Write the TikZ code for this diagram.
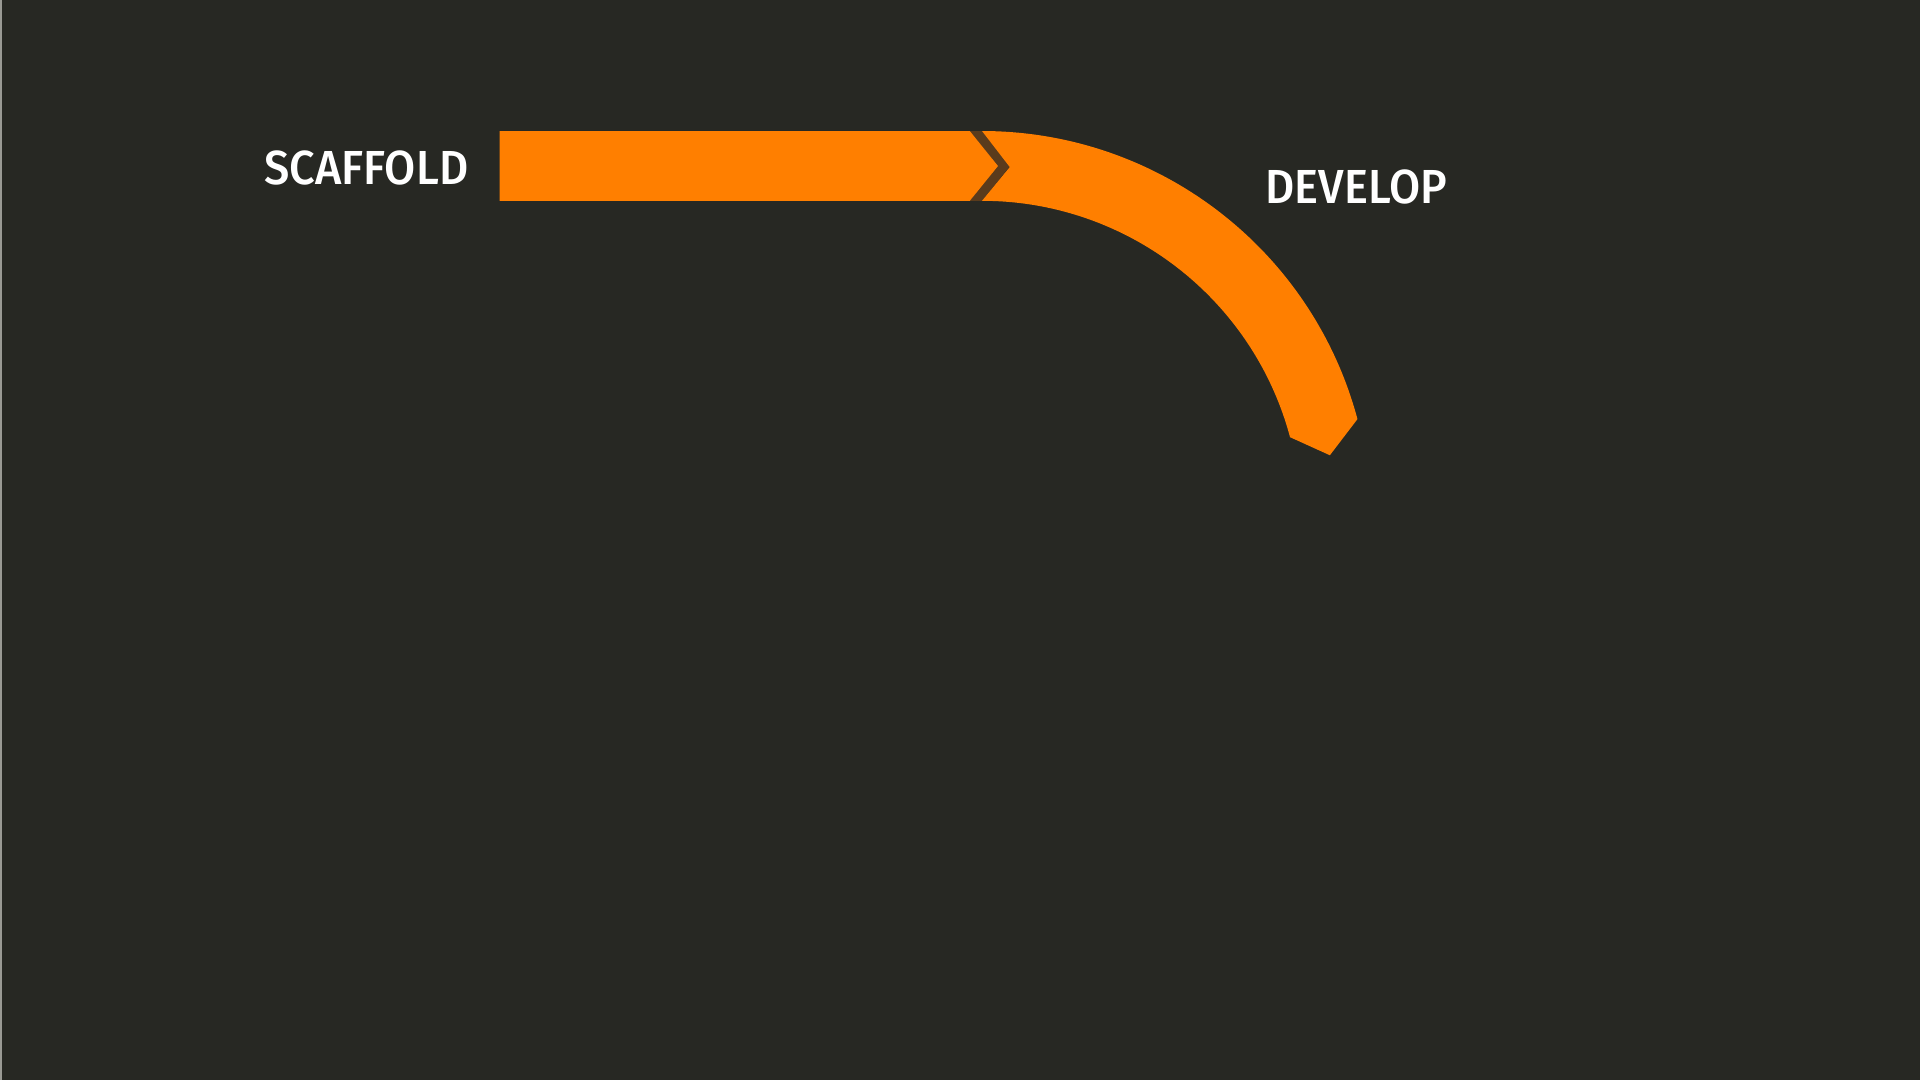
\documentclass[tikz,border=0pt]{standalone}
\usepackage{fontspec}
\setmainfont[FakeStretch=0.945]{Fira Sans Medium}
\usepackage{xcolor}
\usetikzlibrary{calc}
\definecolor{slate}{HTML}{272823}
\definecolor{flame}{HTML}{FF7F00}
\definecolor{rust}{HTML}{5A3B1C}
\definecolor{rim}{HTML}{9A9A94}

\begin{document}
\begin{tikzpicture}[x=0.1mm,y=-0.1mm,
	band/.style={fill=flame},
	lbl/.style={text=white,inner sep=0pt,font=\fontsize{13.6}{15}\selectfont}]
	\fill[slate] (0,0) rectangle (1920,1080);
	\fill[rim] (0,0) rectangle (2,1080);
	\coordinate (c) at (982,519.7);
	\fill[rust] (969.8,131)--(982,131)--(1009.8,166)--(982,200.8)--(969.8,200.8)--(998,166)--cycle;
	\fill[band] (499.6,131)--(969.8,131)--(998,166)--(969.8,200.8)--(499.6,200.8)--cycle;
	\fill[band] (982,131) arc[start angle=-90,end angle=-15,radius=388.7]
		-- ($(c)+(-10.5:353.8)$) -- ($(c)+(-15:318.9)$)
		arc[start angle=-15,end angle=-90,radius=318.9]
		-- ($(c)+(-85.5:353.8)$) -- cycle;
	\node[lbl,anchor=east] (scaffold) at (469,167.8) {SCAFFOLD};
	\node[lbl,anchor=west] (develop) at (1265,187.3) {DEVELOP};
\end{tikzpicture}
\end{document}
